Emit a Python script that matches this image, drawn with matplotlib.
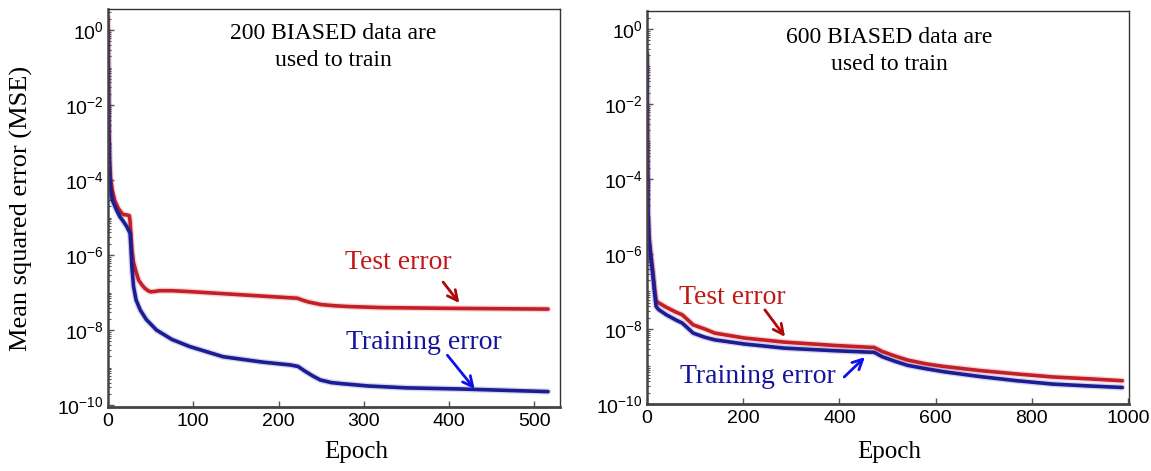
import numpy as np
import matplotlib
matplotlib.use("Agg")
import matplotlib.pyplot as plt
from matplotlib.ticker import FixedLocator, LogLocator, NullFormatter, FuncFormatter

# ---- training curves, values are log10(MSE) read per epoch ----
ep_test_200 = [0, 1, 2, 3, 5, 8, 12, 16, 18, 22, 25, 26, 27, 28, 30, 33, 36, 40, 43, 47,
               50, 55, 60, 75, 100, 150, 200, 222, 228, 235, 250, 265, 280, 320, 400, 516]
test_200 = [0.35, -2.5, -3.5, -3.95, -4.27, -4.55, -4.75, -4.88, -4.92, -4.93, -4.95, -5.1,
            -5.5, -5.85, -6.2, -6.45, -6.67, -6.8, -6.88, -6.95, -6.98, -6.97, -6.95, -6.95,
            -6.98, -7.05, -7.12, -7.15, -7.2, -7.25, -7.32, -7.35, -7.37, -7.40, -7.42, -7.44]

ep_train_200 = [0, 1, 2, 3, 5, 10, 14, 18, 22, 26, 27, 28, 30, 33, 38, 45, 57, 75, 96, 135,
                180, 214, 223, 230, 240, 249, 262, 275, 305, 350, 413, 516]
train_200 = [0.0, -3.0, -3.9, -4.2, -4.53, -4.8, -4.98, -5.1, -5.24, -5.42, -5.8, -6.3, -6.84,
             -7.2, -7.47, -7.72, -8.0, -8.25, -8.44, -8.71, -8.85, -8.93, -8.97, -9.08, -9.22,
             -9.33, -9.4, -9.43, -9.49, -9.54, -9.57, -9.64]

ep_600 = [0, 1, 2, 4, 7.6, 12.5, 16, 19, 24, 40, 60, 73, 80, 96, 120, 141, 202, 285, 391,
          466, 472, 489, 515, 542, 580, 617, 693, 769, 844, 920, 988]
test_600 = [-0.64, -3.0, -4.8, -5.5, -5.97, -6.5, -6.95, -7.25, -7.3, -7.42, -7.55, -7.62,
            -7.7, -7.89, -8.0, -8.11, -8.24, -8.35, -8.44, -8.49, -8.49, -8.6, -8.72, -8.83,
            -8.93, -9.0, -9.11, -9.2, -9.28, -9.33, -9.38]
train_600 = [-0.7, -3.1, -4.9, -5.6, -6.05, -6.6, -7.05, -7.4, -7.48, -7.62, -7.76, -7.84,
             -7.92, -8.11, -8.22, -8.29, -8.4, -8.51, -8.58, -8.62, -8.62, -8.74, -8.86, -8.97,
             -9.06, -9.14, -9.27, -9.38, -9.47, -9.52, -9.56]

yticks = [1e0, 1e-2, 1e-4, 1e-6, 1e-8, 1e-10]

RED, BLUE = "#c41e26", "#1c1c94"
SERIF = ["Liberation Serif", "DejaVu Serif"]
SANS = ["Liberation Sans", "DejaVu Sans"]


def exp_label(v, _):
    e = int(round(np.log10(v)))
    return r"$\mathregular{10^{%d}}$" % e


def curve(ax, ep, logv, color):
    y = 10.0 ** np.asarray(logv)
    ax.plot(ep, y, color=color, lw=4.5, alpha=0.18, solid_capstyle="round")
    ax.plot(ep, y, color=color, lw=2.6, solid_capstyle="round")


def style(ax, xmax, xstep, ylim):
    ax.set_yscale("log")
    ax.set_xlim(0, xmax)
    ax.set_ylim(*ylim)
    ax.xaxis.set_major_locator(FixedLocator(np.arange(0, xmax, xstep)))
    ax.yaxis.set_major_locator(FixedLocator(yticks))
    ax.yaxis.set_major_formatter(FuncFormatter(exp_label))
    ax.yaxis.set_minor_locator(LogLocator(base=10, subs=np.arange(1, 10), numticks=30))
    ax.yaxis.set_minor_formatter(NullFormatter())
    ax.tick_params(which="both", direction="in", color="#555555")
    ax.tick_params(which="major", length=4, width=1)
    ax.tick_params(which="minor", length=2.5, width=0.8)
    ax.tick_params(axis="x", pad=4, labelsize=14)
    ax.tick_params(axis="y", pad=3, labelsize=14)
    for lab in ax.get_xticklabels() + ax.get_yticklabels():
        lab.set_family(SANS)
    ax.spines["left"].set_linewidth(1.8)
    ax.spines["bottom"].set_linewidth(2.0)
    ax.spines["left"].set_color("#444444")
    ax.spines["bottom"].set_color("#444444")
    for s in ("top", "right"):
        ax.spines[s].set_linewidth(1.0)
        ax.spines[s].set_color("#333333")


def note(ax, text, xy_text, color, tail, head, arrow_color):
    ax.text(xy_text[0], 10 ** xy_text[1], text, color=color, family=SERIF, fontsize=20,
            ha="center", va="center")
    ax.annotate("", xy=(head[0], 10 ** head[1]), xytext=(tail[0], 10 ** tail[1]),
                arrowprops=dict(arrowstyle="->", color=arrow_color, lw=2,
                                mutation_scale=18, shrinkA=0, shrinkB=0))


fig = plt.figure(figsize=(11.51, 4.71), dpi=100)
ax1 = fig.add_axes([0.0938, 0.1359, 0.3927, 0.845])
ax2 = fig.add_axes([0.5621, 0.1423, 0.4188, 0.8344])

# 200 samples
curve(ax1, ep_test_200, test_200, RED)
curve(ax1, ep_train_200, train_200, BLUE)
style(ax1, 530, 100, (10 ** -10.05, 10 ** 0.56))
ax1.set_ylabel("Mean squared error (MSE)", family=SERIF, fontsize=19)
ax1.yaxis.set_label_coords(-0.166, 0.5)
ax1.set_xlabel("Epoch", family=SERIF, fontsize=18)
ax1.xaxis.set_label_coords(0.549, -0.085)
ax1.text(0.498, 0.905, "200 BIASED data are\nused to train", transform=ax1.transAxes,
         ha="center", va="center", family=SERIF, fontsize=17, linespacing=1.35)
note(ax1, "Test error", (340, -6.19), "#c01818", (393, -6.72), (412, -7.28), "#b00808")
note(ax1, "Training error", (371, -8.32), "#14149c", (398, -8.67), (430, -9.57), "#1010ee")

# 600 samples
curve(ax2, ep_600, test_600, RED)
curve(ax2, ep_600, train_600, BLUE)
style(ax2, 1002, 200, (10 ** -10.0, 10 ** 0.48))
ax2.set_xlabel("Epoch", family=SERIF, fontsize=18)
ax2.xaxis.set_label_coords(0.502, -0.095)
ax2.text(0.502, 0.898, "600 BIASED data are\nused to train", transform=ax2.transAxes,
         ha="center", va="center", family=SERIF, fontsize=17, linespacing=1.35)
note(ax2, "Test error", (177, -7.15), "#c01818", (245, -7.49), (287, -8.21), "#b00808")
note(ax2, "Training error", (231, -9.28), "#14149c", (410, -9.28), (453, -8.75), "#1010ee")

fig.savefig("out.png", dpi=100)
